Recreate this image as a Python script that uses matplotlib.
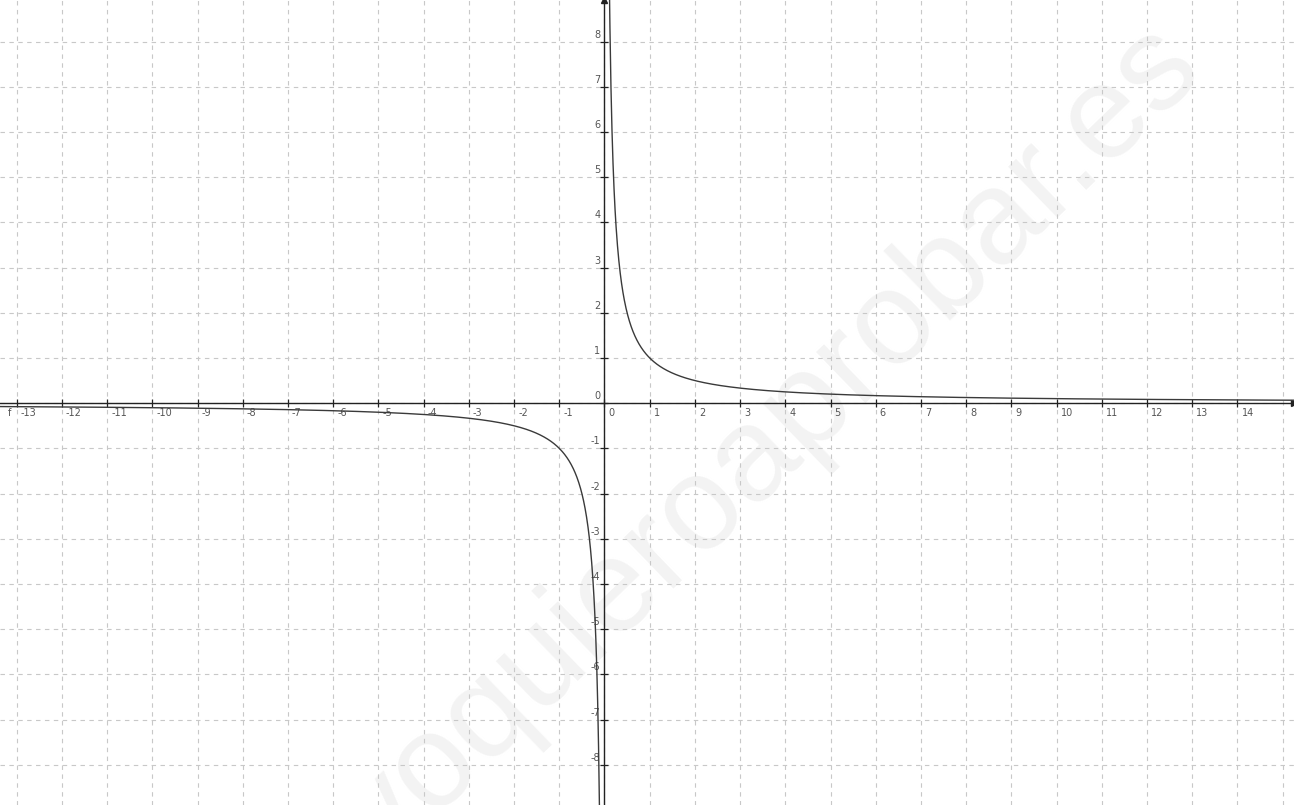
import matplotlib
matplotlib.use("Agg")
import matplotlib.pyplot as plt
import matplotlib.transforms as mtransforms
import numpy as np

# ---- data -------------------------------------------------------------
K = 1.0                      # f(x) = K / x
X_LIMITS = (-13.37, 15.25)
Y_LIMITS = (-8.89, 8.92)
X_TICKS = list(range(-13, 15))
Y_TICKS = list(range(-8, 9))
WATERMARK = "yoquieroaprobar.es"

GRID_COLOR = "#c8c8c8"
LABEL_COLOR = "#555555"
CURVE_COLOR = "#3a3a3a"

fig = plt.figure(figsize=(12.94, 8.05), dpi=100)
ax = fig.add_axes([0, 0, 1, 1])
ax.set_xlim(*X_LIMITS)
ax.set_ylim(*Y_LIMITS)

# watermark, behind everything
fig.text(772 / 1294, 1 - 445 / 805, WATERMARK, rotation=44, rotation_mode="anchor",
         ha="center", va="center", fontsize=96, family="Liberation Sans",
         color="#f3f3f3", zorder=-1)
ax.patch.set_alpha(0)

# grid
for gx in range(int(np.ceil(X_LIMITS[0])), int(np.floor(X_LIMITS[1])) + 1):
    ax.axvline(gx, color=GRID_COLOR, lw=0.8, ls=(0, (4, 4)), zorder=1)
for gy in range(int(np.ceil(Y_LIMITS[0])), int(np.floor(Y_LIMITS[1])) + 1):
    ax.axhline(gy, color=GRID_COLOR, lw=0.8, ls=(0, (4, 4)), zorder=1)

# axes through the origin
for side in ("top", "right"):
    ax.spines[side].set_visible(False)
ax.spines["left"].set_position(("data", 0))
ax.spines["bottom"].set_position(("data", 0))
for side in ("left", "bottom"):
    ax.spines[side].set_color("#222222")
    ax.spines[side].set_linewidth(1.0)
    ax.spines[side].set_zorder(3)
ax.set_xticks(X_TICKS)
ax.set_yticks(Y_TICKS)
ax.set_xticklabels([])
ax.set_yticklabels([])
ax.tick_params(direction="inout", length=6, width=0.9, color="#222222")

# arrow heads
ax.plot(1, 0, ">", color="#222222", ms=4, transform=ax.get_yaxis_transform(),
        clip_on=False, zorder=4)
ax.plot(0, 1, "^", color="#222222", ms=4, transform=ax.get_xaxis_transform(),
        clip_on=False, zorder=4)

# tick labels (GeoGebra style)
off_x = mtransforms.offset_copy(ax.transData, fig=fig, x=4, y=-5, units="dots")
for t in X_TICKS:
    ax.text(t, 0, str(t), transform=off_x, ha="left", va="top",
            fontsize=7, color=LABEL_COLOR)
off_y = mtransforms.offset_copy(ax.transData, fig=fig, x=-4, y=2, units="dots")
for t in Y_TICKS:
    ax.text(0, t, str(t), transform=off_y, ha="right", va="bottom",
            fontsize=7, color=LABEL_COLOR)

# curve
xs_neg = np.linspace(X_LIMITS[0], -0.105, 2000)
xs_pos = np.linspace(0.105, X_LIMITS[1], 2000)
ax.plot(xs_neg, K / xs_neg, color=CURVE_COLOR, lw=1.0, zorder=5)
ax.plot(xs_pos, K / xs_pos, color=CURVE_COLOR, lw=1.0, zorder=5)

ax.text(-13.2, -0.1, "f", ha="left", va="top", fontsize=7, color=LABEL_COLOR)

fig.savefig("out.png", dpi=100)
